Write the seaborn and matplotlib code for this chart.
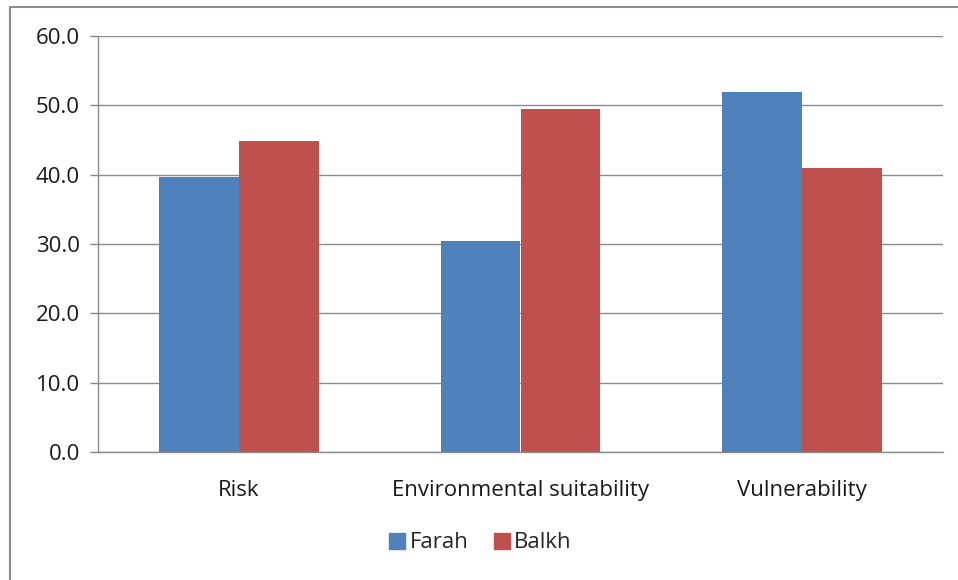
import pandas as pd
import numpy as np
import seaborn as sns
import matplotlib.pyplot as plt
from matplotlib.lines import Line2D

# data
categories = ['Risk', 'Environmental suitability', 'Vulnerability']
farah = [39.7, 30.4, 51.9]
balkh = [44.9, 49.4, 41.0]
series = ['Farah', 'Balkh']
colors = ['#4F81BD', '#C0504D']

df = pd.DataFrame({
    'Category': categories * 2,
    'Value': farah + balkh,
    'Region': ['Farah'] * 3 + ['Balkh'] * 3,
})

sns.set_style('white')
plt.rcParams['font.family'] = ['Open Sans', 'DejaVu Sans']

fig = plt.figure(figsize=(9.58, 5.8), dpi=100)
ax = fig.add_axes([98 / 958, 1 - 452 / 580, (943 - 98) / 958, (452 - 36) / 580])

sns.barplot(data=df, x='Category', y='Value', hue='Region', hue_order=series,
            palette=colors, width=0.567, gap=0, saturation=1, ax=ax,
            edgecolor='none', linewidth=0)

fs = 16
ax.set_ylim(0, 60)
ax.set_xlim(-0.5, 2.5)
ax.set_yticks(np.arange(0, 61, 10))
ax.set_yticklabels([f'{v:.1f}' for v in np.arange(0, 61, 10)], fontsize=fs, color='#1a1a1a')
ax.set_xticks(range(3))
ax.set_xticklabels(categories, fontsize=fs, color='#1a1a1a')
ax.set_xticks([-0.5, 0.5, 1.5, 2.5], minor=True)
ax.tick_params(axis='x', which='major', length=0, pad=20)
ax.tick_params(axis='x', which='minor', length=6, color='#868686', width=1)
ax.tick_params(axis='y', length=6, color='#868686', width=1, pad=7, left=True)
ax.set_xlabel('')
ax.set_ylabel('')

ax.yaxis.grid(True, color='#8c8c8c', linewidth=1)
ax.set_axisbelow(True)
for s in ['top', 'right']:
    ax.spines[s].set_visible(False)
for s in ['left', 'bottom']:
    ax.spines[s].set_color('#8c8c8c')
    ax.spines[s].set_linewidth(1)

# legend at the bottom
handles = [Line2D([0], [0], marker='s', linestyle='none', markersize=12,
                  markerfacecolor=c, markeredgecolor=c) for c in colors]
ax.legend(handles, series, loc='center', bbox_to_anchor=(0.5, (580 - 543) / 580),
          bbox_transform=fig.transFigure, ncol=2, frameon=False, fontsize=fs,
          handletextpad=0.05, columnspacing=1.0, handlelength=1.0)

# outer chart border (top and left edges visible)
fig.add_artist(Line2D([10 / 958, 1.0], [1 - 7 / 580, 1 - 7 / 580],
                      transform=fig.transFigure, color='#8c8c8c', linewidth=1.5))
fig.add_artist(Line2D([10 / 958, 10 / 958], [0, 1 - 7 / 580],
                      transform=fig.transFigure, color='#8c8c8c', linewidth=1.5))

fig.savefig('out.png', dpi=100, facecolor='white')
